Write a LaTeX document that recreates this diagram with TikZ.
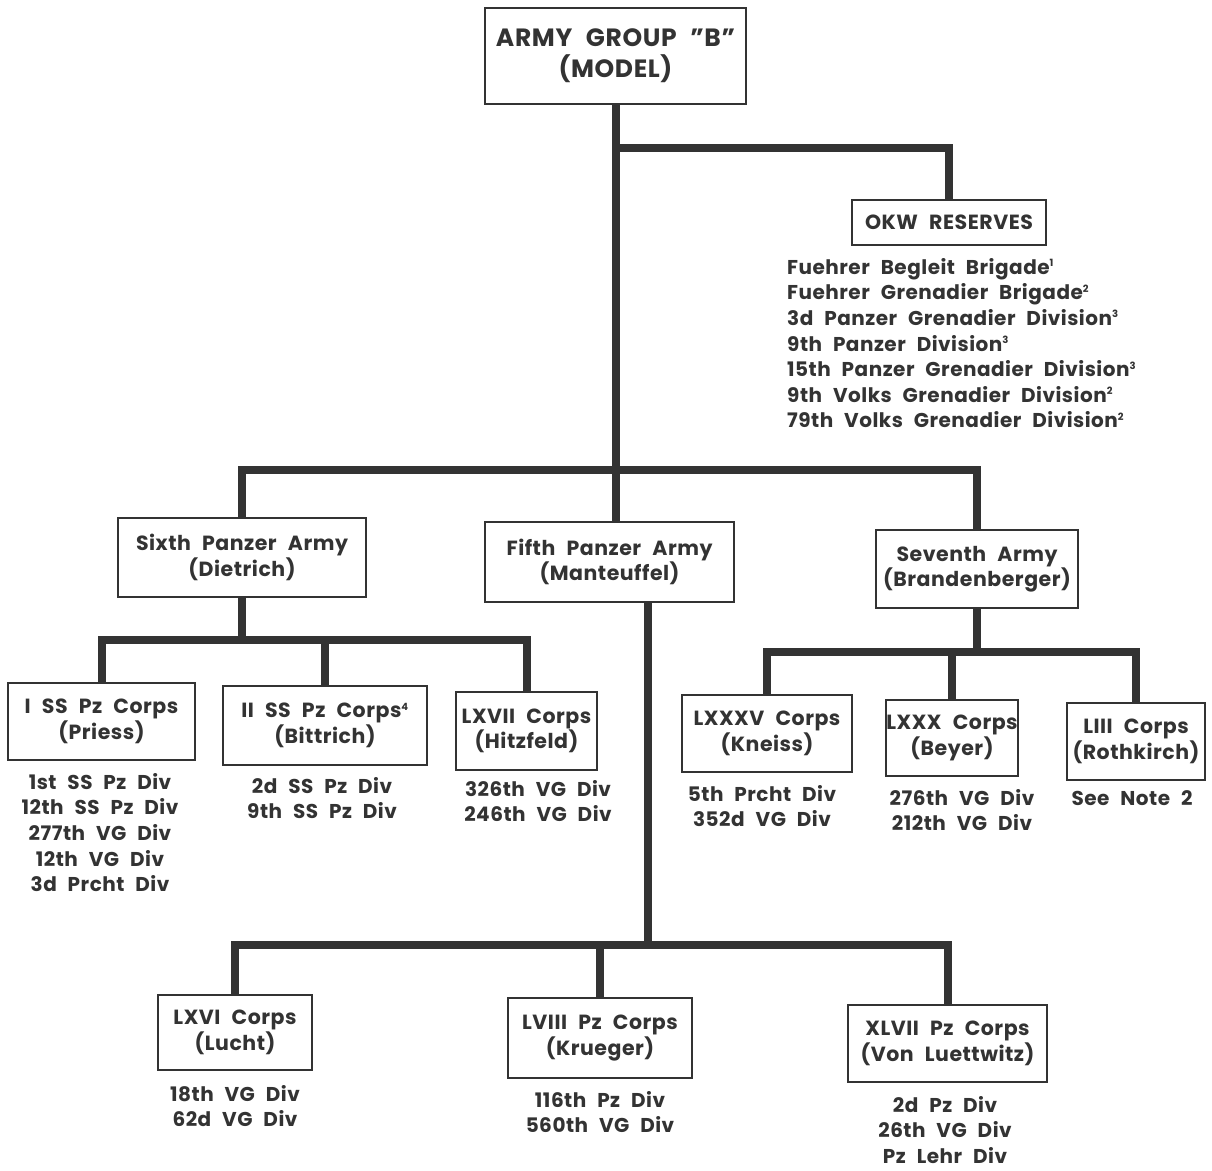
\documentclass[tikz,border=0pt]{standalone}
\usepackage{fontspec}
\setmainfont{Poppins}[WordSpace=2.3, LetterSpace=2.5]
\usetikzlibrary{backgrounds}
\definecolor{ink}{HTML}{333333}
\tikzset{
  box/.style={draw=ink, line width=2.6pt, fill=white, align=center, text=ink,
    font=\bfseries\fontsize{20.5}{25.5}\selectfont, inner sep=0pt},
  big/.style={box, font=\bfseries\fontsize{25}{31}\selectfont},
  list/.style={align=center, text=ink, inner sep=0pt, anchor=north,
    font=\bfseries\fontsize{20}{25.6}\selectfont},
  conn/.style={draw=ink, line width=8pt, line join=miter}
}
\newcommand{\supr}[1]{\textsuperscript{\fontsize{10}{10}\selectfont #1}}
\begin{document}
\begin{tikzpicture}[x=1pt,y=-1pt]
\useasboundingbox (0,0) rectangle (1212,1170);
% boxes
\node[big, minimum width=261pt, minimum height=96pt] (ag) at (615.5,56) {ARMY GROUP ''B''\\(MODEL)};
\node[box, minimum width=194pt, minimum height=45pt] (okw) at (949,222.5) {OKW RESERVES};
\node[box, minimum width=248pt, minimum height=79pt] (sixth) at (242,557.5) {Sixth Panzer Army\\(Dietrich)};
\node[box, minimum width=249pt, minimum height=80pt] (fifth) at (609.5,562) {Fifth Panzer Army\\(Manteuffel)};
\node[box, minimum width=202pt, minimum height=78pt] (seventh) at (977,569) {Seventh Army\\(Brandenberger)};
\node[box, minimum width=187pt, minimum height=77pt] (issc) at (101.5,721.5) {I SS Pz Corps\\(Priess)};
\node[box, minimum width=204pt, minimum height=79pt] (iissc) at (325,725.5) {II SS Pz Corps\supr{4}\\(Bittrich)};
\node[box, minimum width=141pt, minimum height=78pt] (lxvii) at (526.5,731) {LXVII Corps\\(Hitzfeld)};
\node[box, minimum width=170pt, minimum height=77pt] (lxxxv) at (767,733.5) {LXXXV Corps\\(Kneiss)};
\node[box, minimum width=132pt, minimum height=76pt] (lxxx) at (952,738) {LXXX Corps\\(Beyer)};
\node[box, minimum width=138pt, minimum height=77pt] (liii) at (1136,741.5) {LIII Corps\\(Rothkirch)};
\node[box, minimum width=154pt, minimum height=75pt] (lxvi) at (235,1032.5) {LXVI Corps\\(Lucht)};
\node[box, minimum width=184pt, minimum height=80pt] (lviii) at (600,1038) {LVIII Pz Corps\\(Krueger)};
\node[box, minimum width=199pt, minimum height=77pt] (xlvii) at (947.5,1043.5) {XLVII Pz Corps\\(Von Luettwitz)};
% lists
\node[list, anchor=north west, align=left] (okwl) at (787,258) {Fuehrer Begleit Brigade\supr{1}\\Fuehrer Grenadier Brigade\supr{2}\\3d Panzer Grenadier Division\supr{3}\\9th Panzer Division\supr{3}\\15th Panzer Grenadier Division\supr{3}\\9th Volks Grenadier Division\supr{2}\\79th Volks Grenadier Division\supr{2}};
\node[list] (issl) at (100,773) {1st SS Pz Div\\12th SS Pz Div\\277th VG Div\\12th VG Div\\3d Prcht Div};
\node[list] (iissl) at (322,777) {2d SS Pz Div\\9th SS Pz Div};
\node[list] (lxviil) at (538,780) {326th VG Div\\246th VG Div};
\node[list] (lxxxvl) at (762,785) {5th Prcht Div\\352d VG Div};
\node[list] (lxxxl) at (962,789) {276th VG Div\\212th VG Div};
\node[list] (liiil) at (1132,790) {See Note 2};
\node[list] (lxvil) at (235,1085) {18th VG Div\\62d VG Div};
\node[list] (lviiil) at (600,1091) {116th Pz Div\\560th VG Div};
\node[list] (xlviil) at (945,1096) {2d Pz Div\\26th VG Div\\Pz Lehr Div};
% connectors
\coordinate (j0) at (615,148);
\coordinate (j1) at (615,470);
\coordinate (b6) at (240,640);
\coordinate (b5) at (648,945);
\coordinate (b7) at (975,652);
\begin{pgfonlayer}{background}
\fill[white] (0,0) rectangle (1212,1170);
\draw[conn] (ag.south) -- (ag.south |- fifth.north);
\draw[conn] (j0) -| (okw.north);
\draw[conn] (sixth.north) -- (sixth.north |- j1) -- (seventh.north |- j1) -- (seventh.north);
\draw[conn] (sixth.south) -- (sixth.south |- b6);
\draw[conn] (issc.north) |- (b6) -| (lxvii.north);
\draw[conn] (iissc.north) -- (iissc.north |- b6);
\draw[conn] (fifth.south -| b5) -- (b5);
\draw[conn] (lxvi.north) |- (b5) -| (xlvii.north);
\draw[conn] (lviii.north) -- (lviii.north |- b5);
\draw[conn] (seventh.south) -- (seventh.south |- b7);
\draw[conn] (lxxxv.north) |- (b7) -| (liii.north);
\draw[conn] (lxxx.north) -- (lxxx.north |- b7);
\end{pgfonlayer}
\end{tikzpicture}
\end{document}
